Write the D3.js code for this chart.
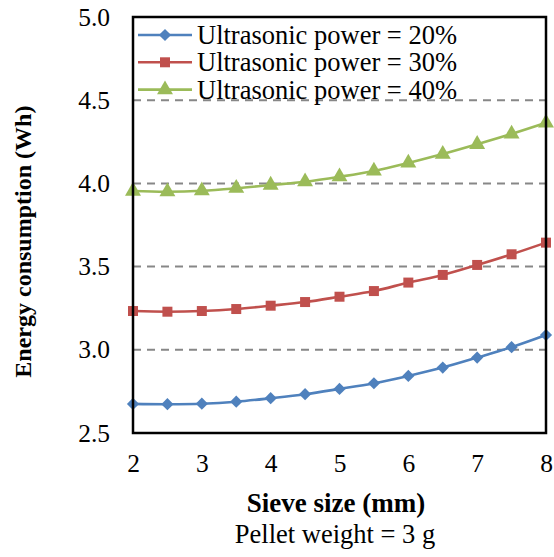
<!DOCTYPE html>
<html>
<head>
<meta charset="utf-8">
<script src="https://cdn.jsdelivr.net/npm/d3@7"></script>
<style>
    body { margin: 0; background: white; }
    svg text { font-family: 'Liberation Serif', serif; }
</style>
</head>
<body>
<script>
// data
var sieveSize = [2, 2.5, 3, 3.5, 4, 4.5, 5, 5.5, 6, 6.5, 7, 7.5, 8];
var power20 = [2.675, 2.673, 2.676, 2.688, 2.709, 2.733, 2.765, 2.799, 2.843, 2.893, 2.953, 3.016, 3.089];
var power30 = [3.233, 3.229, 3.233, 3.245, 3.265, 3.287, 3.319, 3.353, 3.404, 3.450, 3.510, 3.574, 3.644];
var power40 = [3.954, 3.950, 3.956, 3.971, 3.990, 4.010, 4.040, 4.075, 4.123, 4.176, 4.235, 4.297, 4.364];
var seriesNames = ["Ultrasonic power = 20%", "Ultrasonic power = 30%", "Ultrasonic power = 40%"];
var xTicks = [2, 3, 4, 5, 6, 7, 8];
var yTicks = [2.5, 3.0, 3.5, 4.0, 4.5, 5.0];

var width = 554, height = 557;
var margin = {top: 17, right: 8, bottom: 124, left: 133};
var serifFont = "'Liberation Serif', serif";

var svg = d3.select("body").append("svg")
    .attr("width", width)
    .attr("height", height);

var xScale = d3.scaleLinear()
    .domain([2, 8])
    .range([margin.left, width - margin.right]);

var yScale = d3.scaleLinear()
    .domain([2.5, 5.0])
    .range([height - margin.bottom, margin.top]);

// dashed gridlines
svg.append("g")
    .selectAll("line")
    .data(yTicks.filter(d => d > 2.5 && d < 5.0))
    .enter().append("line")
    .attr("x1", margin.left)
    .attr("x2", width - margin.right)
    .attr("y1", d => yScale(d))
    .attr("y2", d => yScale(d))
    .style("stroke", "#878787")
    .style("stroke-width", 2)
    .style("stroke-dasharray", "8,6");

// axes without tick marks, only the labels
var yAxis = d3.axisLeft(yScale)
    .tickValues(yTicks)
    .tickFormat(d3.format(".1f"))
    .tickSize(0)
    .tickPadding(23);

var xAxis = d3.axisBottom(xScale)
    .tickValues(xTicks)
    .tickFormat(d3.format("d"))
    .tickSize(0)
    .tickPadding(21);

var gy = svg.append("g")
    .attr("transform", "translate(" + margin.left + ",0)")
    .call(yAxis);
var gx = svg.append("g")
    .attr("transform", "translate(0," + (height - margin.bottom) + ")")
    .call(xAxis);

gy.select(".domain").remove();
gx.select(".domain").remove();
gy.attr("font-family", null).attr("font-size", null);
gx.attr("font-family", null).attr("font-size", null);
svg.selectAll(".tick text")
    .style("font-size", "25.5px")
    .style("fill", "black");

var colors = ["#4F81BD", "#C0504D", "#9BBB59"];
var allSeries = [power20, power30, power40];

var line = d3.line()
    .x((d, i) => xScale(sieveSize[i]))
    .y(d => yScale(d))
    .curve(d3.curveCatmullRom);

svg.append("g")
    .selectAll("path")
    .data(allSeries)
    .enter().append("path")
    .attr("d", d => line(d))
    .style("fill", "none")
    .style("stroke", (d, i) => colors[i])
    .style("stroke-width", 2.6);

// markers: diamond, square, triangle
var symbols = [
    d3.symbol().type(d3.symbolDiamond2).size(95),
    d3.symbol().type(d3.symbolSquare).size(100),
    d3.symbol().type(d3.symbolTriangle).size(110)
];

allSeries.forEach(function(values, s)
{
    svg.append("g")
        .selectAll("path")
        .data(values)
        .enter().append("path")
        .attr("d", symbols[s])
        .attr("transform", (d, i) => "translate(" + xScale(sieveSize[i]) + "," + yScale(d) + ")")
        .style("fill", colors[s]);
});

// plot area frame
svg.append("rect")
    .attr("x", margin.left)
    .attr("y", margin.top)
    .attr("width", width - margin.left - margin.right)
    .attr("height", height - margin.top - margin.bottom)
    .style("fill", "none")
    .style("stroke", "black")
    .style("stroke-width", 2.5);

// legend
var legend = svg.append("g")
    .selectAll("g")
    .data(seriesNames)
    .enter().append("g")
    .attr("transform", (d, i) => "translate(0," + (35 + i * 27.3) + ")");

legend.append("line")
    .attr("x1", 138)
    .attr("x2", 192)
    .style("stroke", (d, i) => colors[i])
    .style("stroke-width", 2.6);

legend.append("path")
    .attr("d", (d, i) => symbols[i]())
    .attr("transform", "translate(165,0)")
    .style("fill", (d, i) => colors[i]);

legend.append("text")
    .attr("x", 197)
    .attr("y", 9)
    .style("font-size", "26.5px")
    .text(d => d);

// axis titles
svg.append("text")
    .attr("x", 336)
    .attr("y", 512)
    .attr("text-anchor", "middle")
    .style("font-size", "27px")
    .style("font-weight", "bold")
    .text("Sieve size (mm)");

svg.append("text")
    .attr("x", 335)
    .attr("y", 543)
    .attr("text-anchor", "middle")
    .style("font-size", "26.5px")
    .text("Pellet weight = 3 g");

svg.append("text")
    .attr("transform", "translate(31," + yScale(3.65) + ") rotate(-90)")
    .attr("text-anchor", "middle")
    .style("font-size", "24px")
    .style("font-weight", "bold")
    .text("Energy consumption (Wh)");

svg.selectAll("text").style("font-family", serifFont);
</script>
</body>
</html>
